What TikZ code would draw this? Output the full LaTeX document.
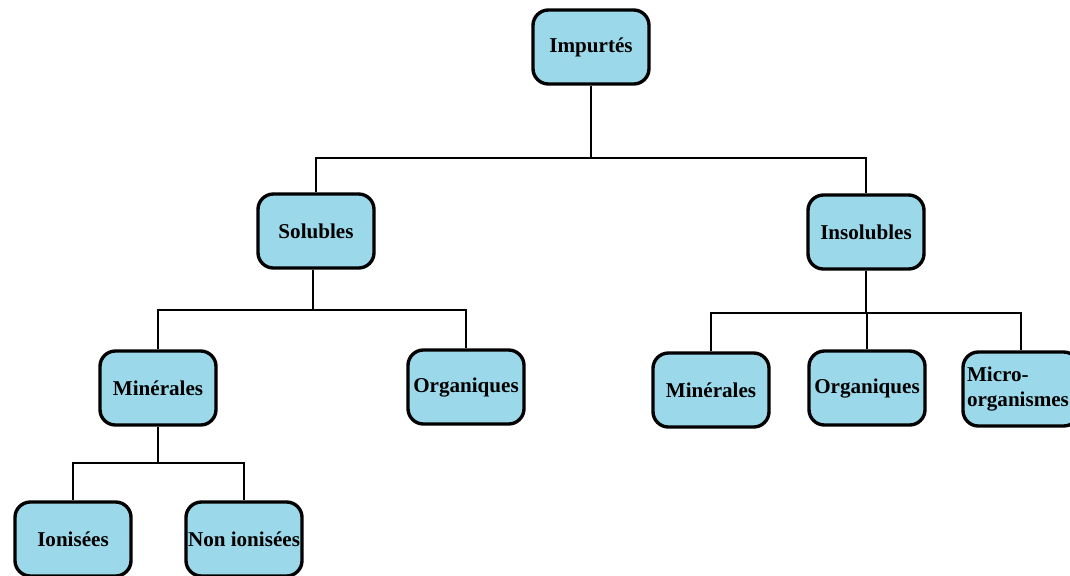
\documentclass[tikz,border=0pt]{standalone}
\usepackage{fontspec}
\setmainfont{Liberation Serif}
\usepackage{xcolor}
\usepackage{tikz}
\usetikzlibrary{positioning}
\definecolor{boxCol}{RGB}{155,217,234}
\tikzset{
  cat/.style={rounded corners=11pt, draw=black, line width=2.4pt, fill=boxCol,
              align=center, font=\fontsize{15}{17.5}\selectfont\bfseries,
              minimum width=2.9cm, minimum height=1.85cm, inner sep=1pt},
  link/.style={black, line width=2pt},
}
\begin{document}
\begin{tikzpicture}[x=0.025cm, y=-0.025cm]
  \useasboundingbox (0,0) rectangle (1070,575);
  % root
  \node[cat] (imp) at (591,47) {Impurtés};
  % first level
  \node[cat] (sol) at (316,231) {Solubles};
  \node[cat] (ins) at (866,232) {Insolubles};
  % solubles children
  \node[cat] (solmin) at (158,388) {Minérales};
  \node[cat] (solorg) at (466,387) {Organiques};
  % insolubles children
  \node[cat] (insmin) at (711,390) {Minérales};
  \node[cat] (insorg) at (867,388) {Organiques};
  \node[cat, align=left, text width=2.7cm] (micro) at (1021,389) {Micro-\\organismes};
  % minerales children
  \node[cat] (ion)  at (73,539)  {Ionisées};
  \node[cat] (nion) at (244,539) {Non ionisées};

  % junctions
  \coordinate (j1) at (591,158);
  \coordinate (j2) at (313,310);
  \coordinate (j3) at (866,313);
  \coordinate (j4) at (158,463);

  \draw[link] (imp.south) -- (j1) -| (sol.north);
  \draw[link] (j1) -| (ins.north);
  \draw[link] (sol.south -| j2) -- (j2) -| (solmin.north);
  \draw[link] (j2) -| (solorg.north);
  \draw[link] (ins.south) -- (j3) -| (insmin.north);
  \draw[link] (j3) -- (insorg.north |- j3) -- (insorg.north);
  \draw[link] (j3) -| (micro.north);
  \draw[link] (solmin.south) -- (j4) -| (ion.north);
  \draw[link] (j4) -| (nion.north);
\end{tikzpicture}
\end{document}
